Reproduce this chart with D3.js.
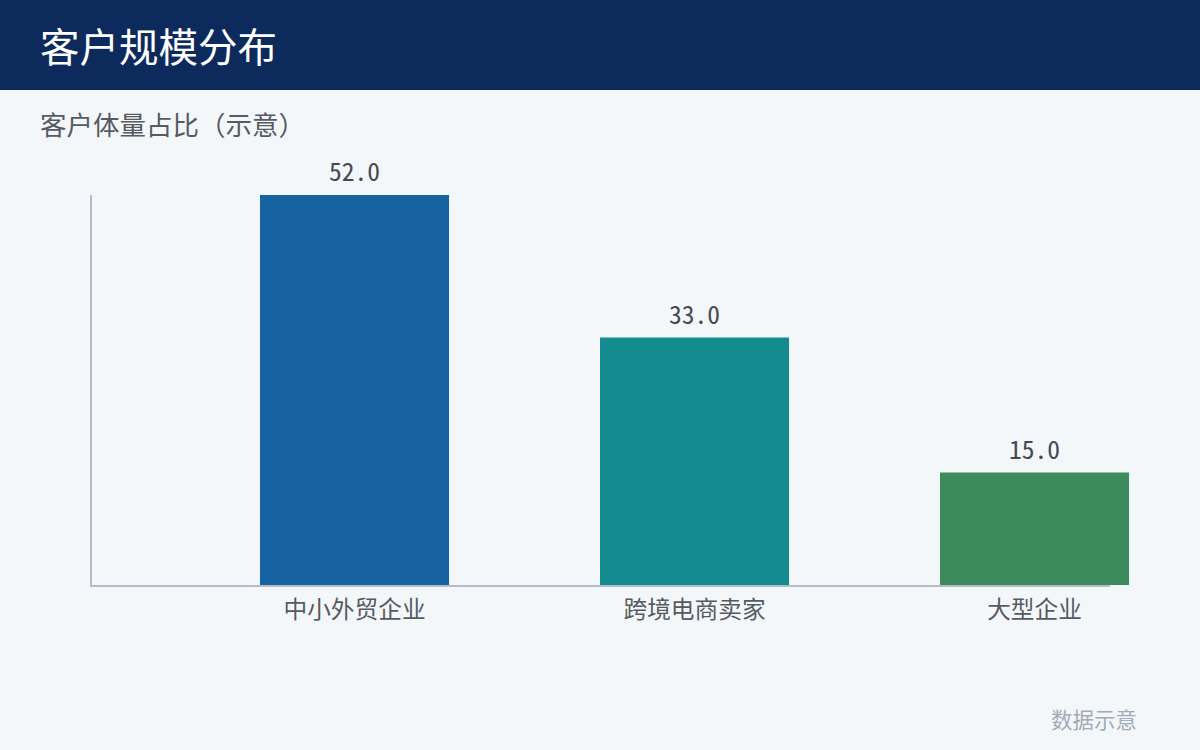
<!DOCTYPE html>
<html><head><meta charset="utf-8">
<script src="https://cdn.jsdelivr.net/npm/d3@7"></script>
<style>
html,body{margin:0;padding:0;background:#f4f7fa;}
svg{display:block;}
text{font-family:"Noto Sans CJK SC","Noto Sans",sans-serif;}
</style></head>
<body>
<svg id="chart" width="1200" height="750"></svg>
<script>
const categories = ["中小外贸企业", "跨境电商卖家", "大型企业"];
const values = [52.0, 33.0, 15.0];
const colors = ["#1763a2", "#138b8f", "#3d8b5a"];
const title = "客户规模分布";
const subtitle = "客户体量占比（示意）";
const footnote = "数据示意";

(function(){
const svg = d3.select("#chart");
svg.append("rect").attr("width",1200).attr("height",750).attr("fill","#f4f7fa");
svg.append("rect").attr("width",1200).attr("height",90).attr("fill","#0d2a5c");
svg.append("text").attr("x",40).attr("y",62).attr("fill","#ffffff")
  .attr("font-size",39.5).text(title);
svg.append("text").attr("x",40).attr("y",135).attr("fill","#555b63")
  .attr("font-size",26.5).text(subtitle);
svg.append("text").attr("x",1137).attr("y",728).attr("text-anchor","end")
  .attr("fill","#a3abb6").attr("font-size",21.5).text(footnote);

const mLeft = 90, mRight = 1110, mTop = 195, mBottom = 585;
const x = d3.scaleBand().domain(categories).range([mLeft, mRight]).padding(0);
const y = d3.scaleLinear().domain([0, d3.max(values)]).range([mBottom, mTop]);
const barW = x.bandwidth() * 0.556;

const axisColor = "#b3bcc7";
svg.append("line").attr("x1",mLeft+1).attr("x2",mLeft+1).attr("y1",mTop).attr("y2",mBottom)
  .attr("stroke",axisColor).attr("stroke-width",2);
svg.append("line").attr("x1",mLeft).attr("x2",mRight).attr("y1",mBottom+1).attr("y2",mBottom+1)
  .attr("stroke",axisColor).attr("stroke-width",2);

const g = svg.append("g");
const data = categories.map((c,i)=>({c, v: values[i], color: colors[i]}));
g.selectAll("rect.bar").data(data).join("rect").attr("class","bar")
  .attr("x", d => x(d.c) + x.bandwidth()/2)
  .attr("width", barW)
  .attr("y", d => y(d.v))
  .attr("height", d => mBottom - y(d.v))
  .attr("fill", d => d.color);

g.selectAll("text.val").data(data).join("text").attr("class","val")
  .attr("x", d => x(d.c) + x.bandwidth()/2 + barW/2)
  .attr("y", d => y(d.v) - 14)
  .attr("text-anchor","middle").attr("fill","#444a52")
  .attr("font-size",25.5)
  .style("font-family","'Noto Sans Mono CJK SC', monospace")
  .text(d => d.v.toFixed(1));

g.selectAll("text.cat").data(data).join("text").attr("class","cat")
  .attr("x", d => x(d.c) + x.bandwidth()/2 + barW/2)
  .attr("y", 618)
  .attr("text-anchor","middle").attr("fill","#555b63")
  .attr("font-size",23.7)
  .text(d => d.c);
})();
</script>
</body></html>
